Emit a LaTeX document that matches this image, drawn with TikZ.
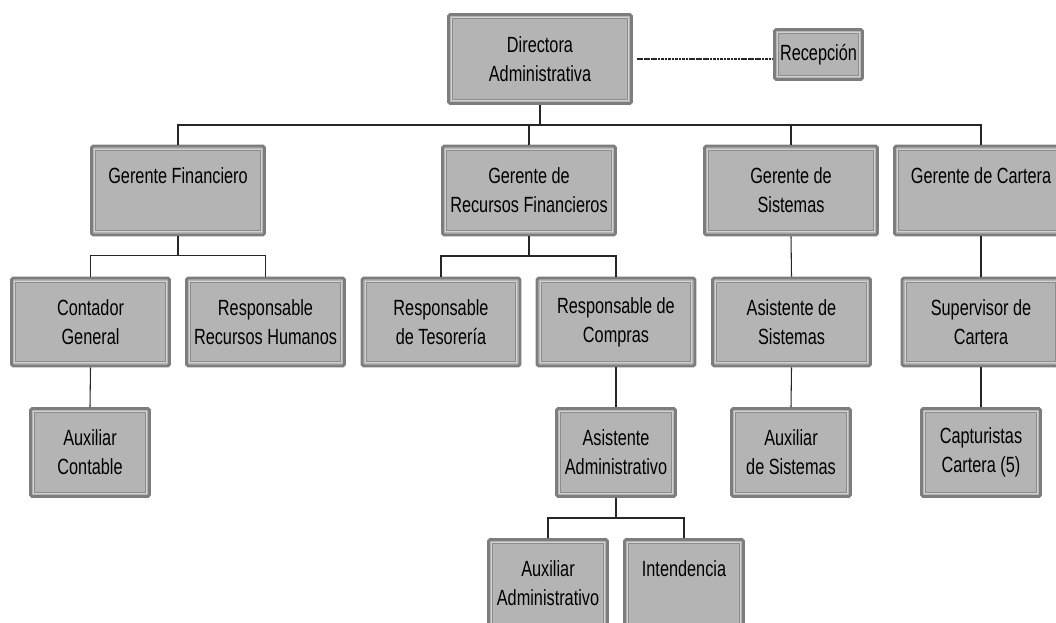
\documentclass[tikz,border=0pt]{standalone}
\usepackage{fontspec}
\setmainfont[FakeStretch=0.74]{Liberation Sans}
\usetikzlibrary{calc}
\definecolor{boxfill}{HTML}{B4B4B4}
\definecolor{boxedge}{HTML}{7D7D7D}
\definecolor{boxlight}{HTML}{D2D2D2}
\definecolor{boxdark}{HTML}{8C8C8C}

\begin{document}
\begin{tikzpicture}[x=0.75pt,y=-0.75pt,
  unit/.style={draw=boxedge, fill=boxfill, line width=2.2pt, rounded corners=1.2pt,
    inner sep=0pt, align=center, text=black,
    font=\fontsize{16.5}{21.75}\selectfont,
    path picture={
      \draw[boxlight, line width=0.7pt, sharp corners]
        ([shift={(2.4pt,-2.4pt)}]path picture bounding box.north west) rectangle
        ([shift={(-2.4pt,2.4pt)}]path picture bounding box.south east);
      \draw[boxdark, line width=0.5pt, sharp corners]
        ([shift={(3.2pt,-3.2pt)}]path picture bounding box.north west) rectangle
        ([shift={(-3.2pt,3.2pt)}]path picture bounding box.south east);
    }},
  top/.style={unit, minimum width=137.25pt, minimum height=66.75pt},
  small/.style={unit, minimum width=66pt, minimum height=37.5pt},
  lvlone/.style={unit, minimum width=129.75pt, minimum height=66.75pt},
  lvltwo/.style={unit, minimum width=118.5pt, minimum height=66pt},
  lvlthree/.style={unit, minimum width=89.25pt, minimum height=66pt},
  link/.style={draw=black!85, line width=0.8pt},
  aside/.style={draw=black!85, line width=0.8pt, dash pattern=on 2pt off 0.6pt}
]
\useasboundingbox (0,0) rectangle (1056,622);
\clip (0,0) rectangle (1056,622);

% top level
\node[top]   (dir) at (540,59)    {Directora\\Administrativa};
\node[small] (rec) at (818.5,54.5) {Recepción};

% managers
\node[lvlone] (gf)  at (178,190.5) {Gerente Financiero\\\mbox{}};
\node[lvlone] (grf) at (529,190.5) {Gerente de\\Recursos Financieros};
\node[lvlone] (gs)  at (791,190.5) {Gerente de\\Sistemas};
\node[lvlone] (gc)  at (981,190.5) {Gerente de Cartera\\\mbox{}};

% second level
\node[lvltwo] (cg)  at (90.5,322)  {Contador\\General};
\node[lvltwo] (rrh) at (265.5,322) {Responsable\\Recursos Humanos};
\node[lvltwo] (rt)  at (441,322)   {Responsable\\de Tesorería};
\node[lvltwo] (rc)  at (616,322)   {Responsable de\\Compras};
\node[lvltwo] (as)  at (791.5,322) {Asistente de\\Sistemas};
\node[lvltwo] (sc)  at (981,322)   {Supervisor de\\Cartera};

% third level
\node[lvlthree] (ac)  at (90,452.5)  {Auxiliar\\Contable};
\node[lvlthree] (aa)  at (616,452.5) {Asistente\\Administrativo};
\node[lvlthree] (axs) at (791,452.5) {Auxiliar\\de Sistemas};
\node[lvlthree] (cap) at (981,452.5) {Capturistas\\Cartera (5)};

% fourth level
\node[lvlthree] (axa) at (548,583.5) {Auxiliar\\Administrativo};
\node[lvlthree] (int) at (684,583.5) {Intendencia\\\mbox{}};

% staff relation
\draw[aside] ([xshift=3pt]dir.east) -- (dir.east -| rec.west);

% main bus
\coordinate (bus) at (540,125);
\draw[link] (dir.south) -- (dir.south |- bus);
\draw[link] (gf.north) |- (bus) -| (gc.north);
\draw[link] (grf.north) -- (grf.north |- bus);
\draw[link] (gs.north) -- (gs.north |- bus);

% Gerente Financiero branch
\coordinate (jf) at ($(gf.south)+(0,19)$);
\draw[link] (gf.south) -- (jf);
\draw[link] (cg.north) |- (jf) -| (rrh.north);
\draw[link] (cg.south) -- (ac.north);

% Recursos Financieros branch
\coordinate (jr) at ($(grf.south)+(0,19.5)$);
\draw[link] (grf.south) -- (jr);
\draw[link] (rt.north) |- (jr) -| (rc.north);
\draw[link] (rc.south) -- (aa.north);
\coordinate (ja) at ($(aa.south)+(0,20)$);
\draw[link] (aa.south) -- (ja);
\draw[link] (axa.north) |- (ja) -| (int.north);

% Sistemas and Cartera chains
\draw[link] (gs.south) -- (as.north);
\draw[link] (as.south) -- (axs.north);
\draw[link] (gc.south) -- (sc.north);
\draw[link] (sc.south) -- (cap.north);
\end{tikzpicture}
\end{document}
